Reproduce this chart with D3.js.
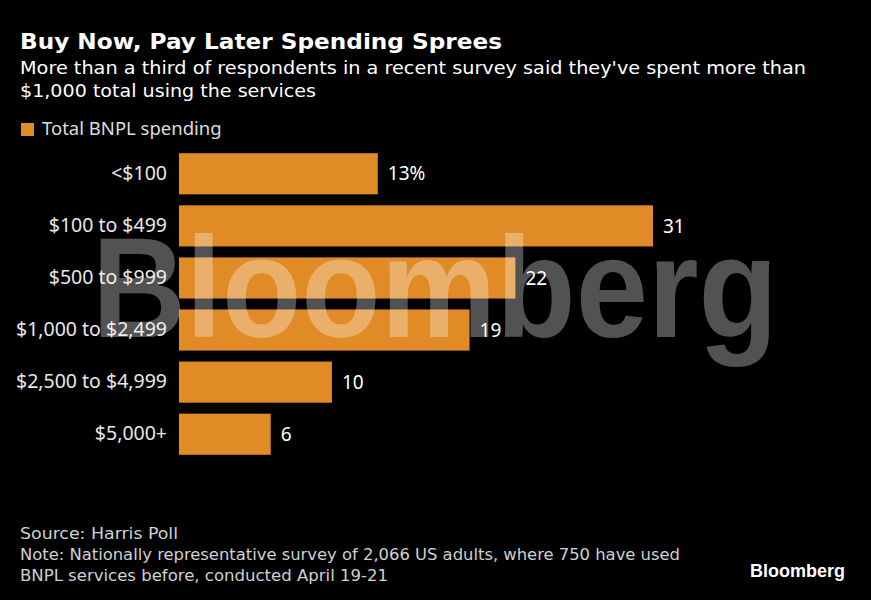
<!DOCTYPE html>
<html><head><meta charset="utf-8">
<script src="https://cdn.jsdelivr.net/npm/d3@7"></script>
<style>html,body{margin:0;padding:0;background:#000;}svg{display:block;}</style>
</head><body>
<script>
const categories = ["<$100", "$100 to $499", "$500 to $999", "$1,000 to $2,499", "$2,500 to $4,999", "$5,000+"];
const values = [13, 31, 22, 19, 10, 6];
const valueLabels = ["13%", "31", "22", "19", "10", "6"];
const seriesName = "Total BNPL spending";
const title = "Buy Now, Pay Later Spending Sprees";
const subtitle = ["More than a third of respondents in a recent survey said they've spent more than", "$1,000 total using the services"];
const footer = ["Source: Harris Poll", "Note: Nationally representative survey of 2,066 US adults, where 750 have used", "BNPL services before, conducted April 19-21"];

const W = 871, H = 600;
const svg = d3.select("body").append("svg").attr("width", W).attr("height", H);
svg.append("rect").attr("width", W).attr("height", H).attr("fill", "#000");

const orange = "#e08b26";
const x = d3.scaleLinear().domain([0, 31]).range([179, 653]);
const y = d3.scaleBand().domain(categories).range([148, 460]).paddingInner(0.21).paddingOuter(0.1);

// title
svg.append("text").attr("x", 20).attr("y", 49).attr("fill", "#fff")
  .attr("font-family", "DejaVu Sans").attr("font-weight", "bold").attr("font-size", 22)
  .attr("textLength", 482).attr("lengthAdjust", "spacingAndGlyphs").text(title);
const subLens = [786, 296];
subtitle.forEach((s, i) => {
  svg.append("text").attr("x", 20).attr("y", 74 + i * 23).attr("fill", "#fff")
    .attr("font-family", "DejaVu Sans").attr("font-size", 18)
    .attr("textLength", subLens[i]).attr("lengthAdjust", "spacingAndGlyphs").text(s);
});

// legend
svg.append("rect").attr("x", 21).attr("y", 123).attr("width", 13).attr("height", 13).attr("fill", orange);
svg.append("text").attr("x", 42).attr("y", 135).attr("fill", "#ddd")
  .attr("font-family", "Noto Sans").attr("font-size", 18.5).text(seriesName);

// bars
const g = svg.append("g");
g.selectAll("rect.bar").data(values).join("rect").attr("class", "bar")
  .attr("x", x(0)).attr("y", (d, i) => y(categories[i]))
  .attr("width", d => x(d) - x(0)).attr("height", y.bandwidth()).attr("fill", orange);

// category labels
const yAxis = d3.axisLeft(y).tickSize(0).tickPadding(12);
const ax = svg.append("g").attr("transform", `translate(${x(0)},0)`).call(yAxis);
ax.select(".domain").remove();
ax.selectAll("text").attr("fill", "#e8e8e8").attr("font-family", "Noto Sans").attr("font-size", 19.5);

// value labels
g.selectAll("text.val").data(values).join("text").attr("class", "val")
  .attr("x", d => x(d) + 10).attr("y", (d, i) => y(categories[i]) + y.bandwidth() / 2)
  .attr("dy", "0.35em").attr("fill", "#fff").attr("font-family", "Noto Sans").attr("font-size", 19)
  .text((d, i) => valueLabels[i]);

// watermark
svg.append("text").attr("x", 92).attr("y", 337).attr("fill", "#fff").attr("fill-opacity", 0.32)
  .attr("font-family", "Liberation Sans").attr("font-weight", "bold").attr("font-size", 142)
  .attr("textLength", 686).attr("lengthAdjust", "spacingAndGlyphs").text("Bloomberg");

// footer
const footLens = [158, 660, 368];
footer.forEach((s, i) => {
  svg.append("text").attr("x", 20).attr("y", 539 + i * 21).attr("fill", "#d0d0d0")
    .attr("font-family", "DejaVu Sans").attr("font-stretch", "condensed").attr("font-size", 16)
    .attr("textLength", footLens[i]).attr("lengthAdjust", "spacingAndGlyphs").text(s);
});
svg.append("text").attr("x", 845).attr("y", 577).attr("text-anchor", "end").attr("fill", "#fff")
  .attr("font-family", "Liberation Sans").attr("font-weight", "bold").attr("font-size", 18)
  .attr("textLength", 95).attr("lengthAdjust", "spacingAndGlyphs").text("Bloomberg");
</script>
</body></html>
